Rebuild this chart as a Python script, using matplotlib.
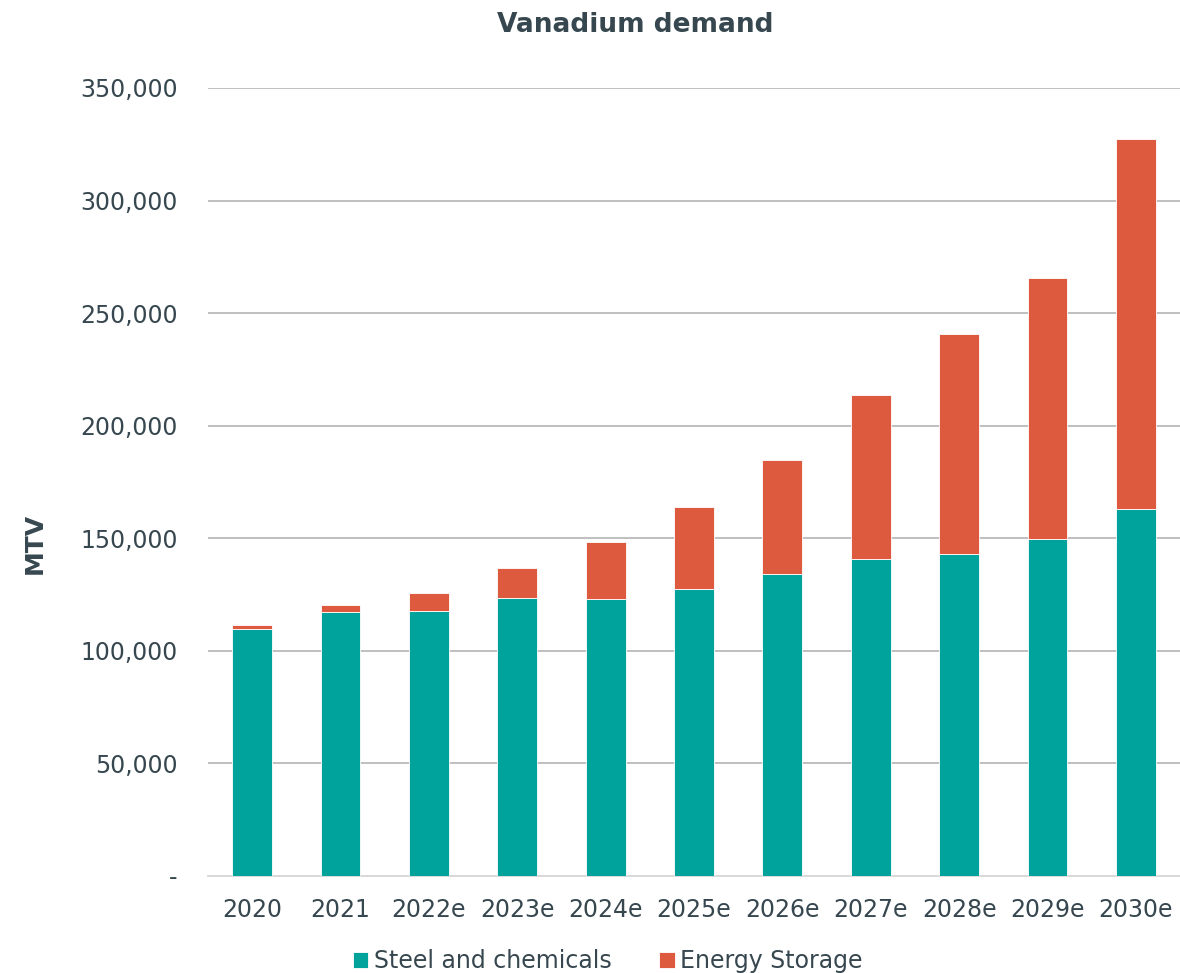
import matplotlib
matplotlib.use("Agg")
import matplotlib.pyplot as plt
from matplotlib.ticker import FuncFormatter

years = ["2020", "2021", "2022e", "2023e", "2024e", "2025e",
         "2026e", "2027e", "2028e", "2029e", "2030e"]
steel = [109700, 117300, 117700, 123500, 123000, 127500,
         134100, 140800, 143000, 149700, 163000]
storage = [1800, 3100, 8000, 13300, 25400, 36400,
           50700, 72900, 97800, 115900, 164400]

TEAL = "#00A39C"
ORANGE = "#DE5A3E"
TEXT = "#37474F"

plt.rcParams["font.family"] = ["DejaVu Sans"]

fig = plt.figure(figsize=(11.8, 9.73), dpi=100)
ax = fig.add_axes([0.1763, 0.0997, 0.8237, 0.8099])

x = list(range(len(years)))
ax.bar(x, steel, width=0.45, color=TEAL, edgecolor="white", linewidth=0.6,
       label="Steel and chemicals", zorder=3)
ax.bar(x, storage, width=0.45, bottom=steel, color=ORANGE, edgecolor="white",
       linewidth=0.6, label="Energy Storage", zorder=3)

ax.set_xlim(-0.5, len(years) - 0.5)
ax.set_ylim(0, 350000)
ax.set_yticks(range(0, 350001, 50000))
ax.yaxis.set_major_formatter(FuncFormatter(lambda v, p: "-" if v == 0 else f"{int(v):,}"))
ax.set_xticks(x)
ax.set_xticklabels(years)

ax.grid(axis="y", color="#BFBFBF", linewidth=1.4, zorder=0)
for s in ["top", "right", "left"]:
    ax.spines[s].set_visible(False)
ax.spines["bottom"].set_color("#D9D9D9")
ax.spines["bottom"].set_linewidth(1.4)
ax.tick_params(axis="both", length=0, labelsize=17, colors=TEXT)
ax.tick_params(axis="x", pad=16)
ax.tick_params(axis="y", pad=22)

fig.text(35 / 1180, 1 - 543 / 973, "MTV", rotation=90, ha="center", va="center",
         fontsize=18, fontweight="bold", color=TEXT)
fig.text(635 / 1180, 1 - 25 / 973, "Vanadium demand", ha="center", va="center",
         fontsize=19, fontweight="bold", color=TEXT)

leg = fig.legend(loc="center", bbox_to_anchor=(608 / 1180, 1 - 961 / 973), ncol=2,
                 frameon=False, fontsize=17, handlelength=0.65, handleheight=0.65,
                 handletextpad=0.25, columnspacing=2.0)
for t in leg.get_texts():
    t.set_color(TEXT)

fig.savefig("out.png", dpi=100)
